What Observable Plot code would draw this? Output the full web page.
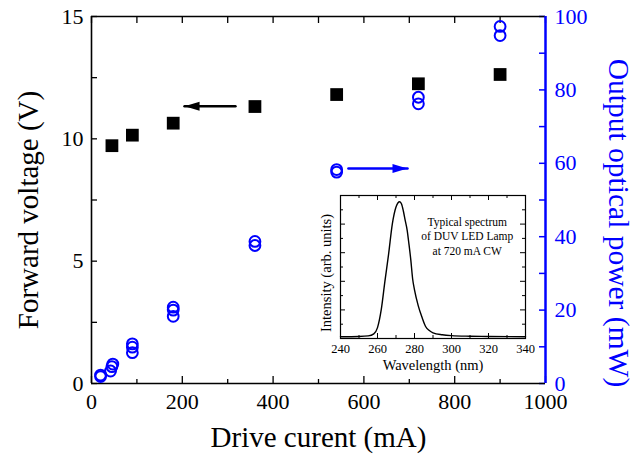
<!DOCTYPE html>
<html><head><meta charset="utf-8">
<script src="https://cdn.jsdelivr.net/npm/d3@7"></script>
<script src="https://cdn.jsdelivr.net/npm/@observablehq/plot@0.6"></script>
<style>
body{margin:0;background:#fff;}
#wrap{position:relative;width:636px;height:456px;overflow:hidden;}
#wrap svg{position:absolute;}
</style></head>
<body><div id="wrap"></div>
<script>
// ---- Main data ----
const voltCurrent = [45, 90, 180, 360, 540, 720, 900];
const voltage = [9.72, 10.15, 10.64, 11.32, 11.81, 12.25, 12.63];

const powerCurrent = [20, 20, 42, 45, 47, 90, 90, 90, 180, 180, 180, 360, 360, 540, 540, 720, 720, 900, 900];
const power = [1.9, 2.3, 3.4, 4.6, 5.3, 8.4, 9.9, 10.8, 18.3, 20.0, 20.8, 37.6, 38.7, 57.6, 58.3, 76.2, 78.0, 94.8, 97.3];

// ---- Axes ticks ----
const xMajorTicks = [0, 200, 400, 600, 800, 1000];
const xMinorTicks = [100, 300, 500, 700, 900];
const yLeftMajor = [0, 5, 10, 15];
const yLeftMinor = [2.5, 7.5, 12.5];
const yRightMajor = [0, 20, 40, 60, 80, 100];
const yRightMinor = [10, 30, 50, 70, 90];

// ---- Annotation arrows ----
const leftArrowCurrent = [317, 205];
const leftArrowVoltage = 11.33;
const rightArrowCurrent = [566, 696];
const rightArrowPower = 58.6;

// ---- Inset spectrum ----
const wavelength = [240, 250, 255, 258, 260, 262, 264, 266, 268, 270, 271, 272, 273, 274, 275, 276, 277, 278, 279, 280, 282, 284, 286, 288, 290, 295, 300, 310, 320, 340];
const intensity  = [0.06, 0.07, 0.09, 0.16, 0.38, 1.0, 2.0, 2.95, 4.0, 4.6, 4.74, 4.78, 4.7, 4.45, 4.12, 3.8, 3.3, 2.75, 2.08, 1.7, 1.15, 0.75, 0.42, 0.28, 0.2, 0.13, 0.1, 0.08, 0.07, 0.06];
const insetXMajor = [240, 260, 280, 300, 320, 340];
const insetXMinor = [250, 270, 290, 310, 330];
const insetYMajor = [1, 2, 3, 4];
const insetYMinor = [0.5, 1.5, 2.5, 3.5, 4.5];
const insetNote = "Typical spectrum\nof DUV LED Lamp\nat 720 mA CW";
const insetNoteAt = [308.5, 3.6];

const FONT = "'Liberation Serif','Times New Roman',Times,serif";
const BLUE = "#0000ff";
const mWtoV = 15 / 100;

const W = 636, H = 456, ML = 91, MR = 91, MT = 16, MB = 73;
const PW = W - ML - MR, PH = H - MT - MB;

const voltData = voltCurrent.map((c, i) => ({c, v: voltage[i]}));
const powerData = powerCurrent.map((c, i) => ({c, p: power[i]}));

const headRight = {draw(ctx){ ctx.moveTo(0,0); ctx.lineTo(-15,-4.5); ctx.lineTo(-15,4.5); ctx.closePath(); }};
const headLeft = {draw(ctx){ ctx.moveTo(0,0); ctx.lineTo(15,-4.5); ctx.lineTo(15,4.5); ctx.closePath(); }};

const leftArrow = leftArrowCurrent.map(c => ({c, v: leftArrowVoltage}));
const rightArrow = rightArrowCurrent.map(c => ({c, v: rightArrowPower * mWtoV}));

const main = Plot.plot({
  width: W, height: H, marginLeft: ML, marginRight: MR, marginTop: MT, marginBottom: MB,
  style: {fontFamily: FONT, fontSize: "22px", background: "transparent", color: "black"},
  x: {domain: [0, 1000]},
  y: {domain: [0, 15]},
  marks: [
    // ticks (inward)
    Plot.tickX(xMajorTicks, {x: d => d, insetTop: PH - 7, stroke: "black", strokeWidth: 1.3}),
    Plot.tickX(xMinorTicks, {x: d => d, insetTop: PH - 4, stroke: "black", strokeWidth: 1.3}),
    Plot.tickX(xMajorTicks.concat(xMinorTicks), {x: d => d, insetBottom: PH - 7, stroke: "black", strokeWidth: 1.3}),
    Plot.tickY(yLeftMajor.concat(yLeftMinor), {y: d => d, insetRight: PW - 6, stroke: "black", strokeWidth: 1.3}),
    Plot.tickY(yRightMajor.concat(yRightMinor), {y: d => d * mWtoV, insetLeft: PW - 6, stroke: BLUE, strokeWidth: 1.5}),
    // frame
    Plot.ruleY([0, 15], {stroke: "black", strokeWidth: 1.6}),
    Plot.ruleX([0], {stroke: "black", strokeWidth: 1.6}),
    Plot.ruleX([1000], {stroke: BLUE, strokeWidth: 2.5}),
    // tick labels
    Plot.axisX({ticks: xMajorTicks, tickFormat: d => String(d), tickSize: 0, tickPadding: 10, fontSize: 22, label: null}),
    Plot.axisY({anchor: "left", ticks: yLeftMajor, tickSize: 0, tickPadding: 8, fontSize: 22, label: null}),
    Plot.axisY({anchor: "right", ticks: yRightMajor.map(p => p * mWtoV), tickFormat: d => String(Math.round(d / mWtoV)), tickSize: 0, tickPadding: 9, fontSize: 22, fill: BLUE, label: null}),
    // titles
    Plot.text(["Drive curent (mA)"], {frameAnchor: "bottom", textAnchor: "middle", dy: 63, lineAnchor: "bottom", fontSize: 29, fill: "black"}),
    Plot.text(["Forward voltage (V)"], {frameAnchor: "left", textAnchor: "middle", rotate: -90, dx: -54, dy: 10, lineAnchor: "bottom", fontSize: 29, fill: "black"}),
    Plot.text(["Output optical power (mW)"], {frameAnchor: "right", textAnchor: "middle", rotate: 90, dx: 63, dy: 23, lineAnchor: "bottom", fontSize: 29.5, fill: BLUE}),
    // data
    Plot.dot(voltData, {x: "c", y: "v", symbol: "square", r: 7.2, fill: "black", stroke: "none"}),
    Plot.dot(powerData, {x: "c", y: d => d.p * mWtoV, r: 5.4, stroke: BLUE, strokeWidth: 2, fill: "none"}),
    // arrows
    Plot.line(leftArrow, {x: "c", y: "v", stroke: "black", strokeWidth: 2.6}),
    Plot.dot(leftArrow.slice(1), {x: "c", y: "v", symbol: headLeft, fill: "black", stroke: "none"}),
    Plot.line(rightArrow, {x: "c", y: "v", stroke: BLUE, strokeWidth: 2.6}),
    Plot.dot(rightArrow.slice(1), {x: "c", y: "v", symbol: headRight, fill: BLUE, stroke: "none"})
  ]
});
main.style.left = "0px"; main.style.top = "0px";
document.getElementById("wrap").appendChild(main);

// ---- Inset ----
const IW = 245, IH = 190, IML = 50, IMR = 10, IMT = 10, IMB = 37;
const IPW = IW - IML - IMR, IPH = IH - IMT - IMB;
const spec = wavelength.map((w, i) => ({w, i: intensity[i]}));
const inset = Plot.plot({
  width: IW, height: IH, marginLeft: IML, marginRight: IMR, marginTop: IMT, marginBottom: IMB,
  style: {fontFamily: FONT, fontSize: "12.5px", background: "transparent", color: "black"},
  x: {domain: [240, 340]},
  y: {domain: [0, 5], axis: null},
  marks: [
    Plot.tickX(insetXMajor, {x: d => d, insetTop: IPH - 5, stroke: "black"}),
    Plot.tickX(insetXMinor, {x: d => d, insetTop: IPH - 3, stroke: "black"}),
    Plot.tickX(insetXMajor, {x: d => d, insetBottom: IPH - 5, stroke: "black"}),
    Plot.tickX(insetXMinor, {x: d => d, insetBottom: IPH - 3, stroke: "black"}),
    Plot.tickY(insetYMajor, {y: d => d, insetRight: IPW - 5, stroke: "black"}),
    Plot.tickY(insetYMinor, {y: d => d, insetRight: IPW - 3, stroke: "black"}),
    Plot.tickY(insetYMajor, {y: d => d, insetLeft: IPW - 5, stroke: "black"}),
    Plot.tickY(insetYMinor, {y: d => d, insetLeft: IPW - 3, stroke: "black"}),
    Plot.frame({stroke: "black", strokeWidth: 1.2}),
    Plot.axisX({ticks: insetXMajor, tickSize: 0, tickPadding: 6, fontSize: 12.5, label: null}),
    Plot.line(spec, {x: "w", y: "i", stroke: "black", strokeWidth: 1.4, curve: "monotone-x"}),
    Plot.text([insetNote], {x: () => insetNoteAt[0], y: () => insetNoteAt[1], fontSize: 11.5, lineHeight: 1.25, lineAnchor: "middle", fill: "black"}),
    Plot.text(["Wavelength (nm)"], {frameAnchor: "bottom", textAnchor: "middle", dy: 31, lineAnchor: "bottom", fontSize: 14.5, fill: "black"}),
    Plot.text(["Intensity (arb. units)"], {frameAnchor: "left", textAnchor: "middle", rotate: -90, dx: -10, dy: 6, lineAnchor: "bottom", fontSize: 14.5, fill: "black"})
  ]
});
inset.style.left = "290px"; inset.style.top = "185px";
document.getElementById("wrap").appendChild(inset);
</script>
</body></html>
